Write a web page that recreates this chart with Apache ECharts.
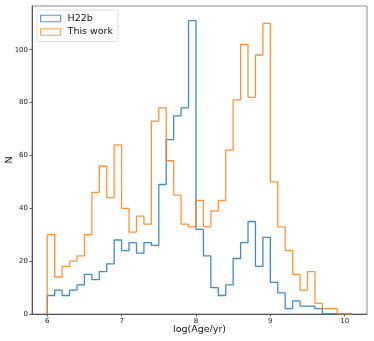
<!DOCTYPE html>
<html>
<head>
<meta charset="utf-8">
<script src="https://cdn.jsdelivr.net/npm/echarts@6/dist/echarts.min.js"></script>
<style>
    html, body {
        margin: 0;
        padding: 0;
        background: #ffffff;
    }
    #chart-container {
        width: 374px;
        height: 341px;
    }
</style>
</head>
<body>
<div id="chart-container"></div>
<script>
    // bin edges of log(Age/yr), 0.1 dex bins
    var binEdges = [6.0, 6.1, 6.2, 6.3, 6.4, 6.5, 6.6, 6.7, 6.8, 6.9,
        7.0, 7.1, 7.2, 7.3, 7.4, 7.5, 7.6, 7.7, 7.8, 7.9,
        8.0, 8.1, 8.2, 8.3, 8.4, 8.5, 8.6, 8.7, 8.8, 8.9,
        9.0, 9.1, 9.2, 9.3, 9.4, 9.5, 9.6, 9.7, 9.8, 9.9,
        10.0, 10.1];
    var countsH22b = [7, 9, 7, 9, 11, 15, 13, 16, 19, 28,
        24, 27, 23, 27, 26, 49, 66, 75, 78, 111,
        32, 22, 10, 7, 11, 21, 27, 35, 18, 29,
        12, 8, 2, 5, 3, 3, 2, 0, 0, 0,
        0];
    var countsThisWork = [30, 14, 18, 20, 22, 30, 46, 56, 44, 64,
        40, 31, 37, 34, 73, 78, 58, 45, 34, 33,
        43, 33, 39, 43, 62, 81, 102, 82, 98, 110,
        50, 33, 24, 15, 9, 16, 4, 2, 2, 0,
        0];
    var xTicks = [6, 7, 8, 9, 10];
    var yTicks = [0, 20, 40, 60, 80, 100];
    var seriesNames = ['H22b', 'This work'];

    // outline of a step histogram: up at the first edge, down at the last
    function stepPoints(counts) {
        var pts = [[binEdges[0], 0]];
        for (var i = 0; i < counts.length; i++) {
            pts.push([binEdges[i], counts[i]]);
        }
        pts.push([binEdges[binEdges.length - 1], counts[counts.length - 1]]);
        pts.push([binEdges[binEdges.length - 1], 0]);
        return pts;
    }

    var font = 'DejaVu Sans';
    var blue = '#1f77b4';
    var orange = '#ff7f0e';

    var dom = document.getElementById('chart-container');
    var myChart = echarts.init(dom, null, {
        renderer: 'canvas'
    });
    var option = {
        animation: false,
        grid: {
            left: 32,
            right: 7,
            top: 6,
            bottom: 27,
            containLabel: false,
            outerBoundsMode: 'none',
            show: true,
            borderColor: '#8a8a8a',
            borderWidth: 1
        },
        legend: {
            orient: 'vertical',
            left: 37,
            top: 10,
            padding: [3, 5, 4, 3],
            itemWidth: 20,
            itemHeight: 6.5,
            itemGap: 2.5,
            backgroundColor: '#ffffff',
            borderColor: '#dcdcdc',
            borderWidth: 1,
            borderRadius: 2,
            textStyle: {
                fontFamily: font,
                fontSize: 9.5,
                color: '#111',
                lineHeight: 11,
                padding: [0, 0, 0, 2]
            },
            data: [{
                name: seriesNames[0],
                icon: 'rect',
                itemStyle: { color: 'rgba(0,0,0,0)', borderColor: blue, borderWidth: 1.2, opacity: 0.75 }
            }, {
                name: seriesNames[1],
                icon: 'rect',
                itemStyle: { color: 'rgba(0,0,0,0)', borderColor: orange, borderWidth: 1.2, opacity: 0.75 }
            }]
        },
        xAxis: {
            type: 'value',
            min: 5.795,
            max: 10.30,
            name: 'log(Age/yr)',
            nameLocation: 'middle',
            nameGap: 11,
            nameMoveOverlap: false,
            nameTextStyle: {
                fontFamily: font,
                fontSize: 9.5,
                color: '#111'
            },
            axisLine: {
                show: true,
                lineStyle: { color: '#555', width: 1 }
            },
            axisTick: {
                show: true,
                length: 2.5,
                customValues: xTicks,
                lineStyle: { color: '#555' }
            },
            axisLabel: {
                customValues: xTicks,
                fontFamily: font,
                fontSize: 7,
                color: '#222',
                margin: 4
            },
            splitLine: { show: false }
        },
        yAxis: {
            type: 'value',
            min: 0,
            max: 116.55,
            name: 'N',
            nameLocation: 'middle',
            nameGap: 17,
            nameMoveOverlap: false,
            nameTextStyle: {
                fontFamily: font,
                fontSize: 9.5,
                color: '#111'
            },
            axisLine: {
                show: true,
                lineStyle: { color: '#555', width: 1 }
            },
            axisTick: {
                show: true,
                length: 2.5,
                customValues: yTicks,
                lineStyle: { color: '#555' }
            },
            axisLabel: {
                customValues: yTicks,
                fontFamily: font,
                fontSize: 7,
                color: '#222',
                margin: 4
            },
            splitLine: { show: false }
        },
        series: [{
            name: seriesNames[0],
            type: 'line',
            step: 'end',
            symbol: 'none',
            data: stepPoints(countsH22b),
            lineStyle: { color: blue, width: 1.3, opacity: 0.85 },
            itemStyle: { color: blue }
        }, {
            name: seriesNames[1],
            type: 'line',
            step: 'end',
            symbol: 'none',
            data: stepPoints(countsThisWork),
            lineStyle: { color: orange, width: 1.3, opacity: 0.85 },
            itemStyle: { color: orange }
        }]
    };
    option && myChart.setOption(option);
</script>
</body>
</html>
